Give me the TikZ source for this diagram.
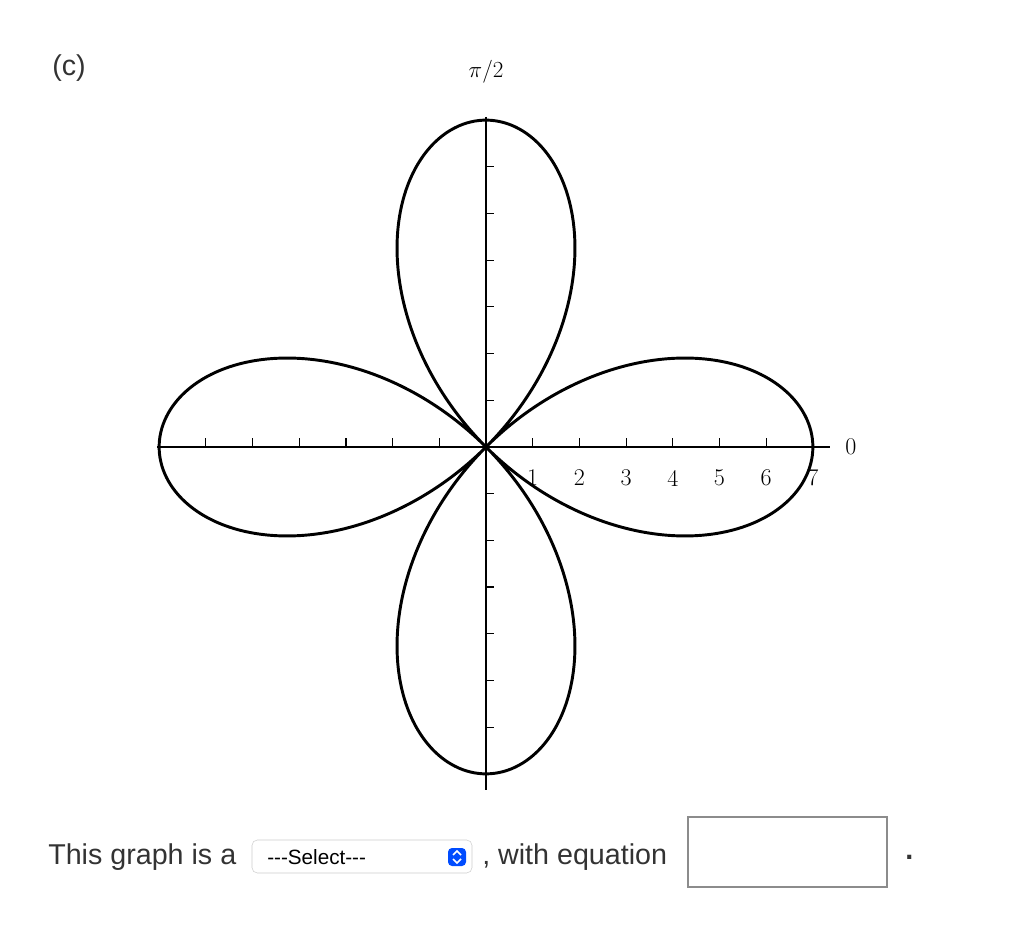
\documentclass[tikz,border=0pt]{standalone}
\usepackage{fontspec}
\setsansfont{Liberation Sans}
\newfontfamily\uifont{Liberation Sans}
\begin{document}
\begin{tikzpicture}[x=0.75pt,y=-0.75pt,
  axis/.style={line width=1.1pt,black},
  tick/.style={line width=0.9pt,black},
  curve/.style={line width=2.2pt,black},
  num/.style={font=\fontsize{18}{20}\selectfont},
  ui/.style={font=\uifont\fontsize{21.5}{24}\selectfont,text=black!80,inner sep=0pt}]
\useasboundingbox (0,0) rectangle (1022,944);
\def\u{46.7}
\draw[axis] (157,447) -- (830,447);
\draw[axis] (486,117) -- (486,790);
\foreach \k in {1,...,7}{
  \draw[tick] ({486+\u*\k},447) -- ({486+\u*\k},438);
  \draw[tick] ({486-\u*\k},447) -- ({486-\u*\k},438);
  \draw[tick] (486,{447-\u*\k}) -- (494,{447-\u*\k});
  \draw[tick] (486,{447+\u*\k}) -- (494,{447+\u*\k});
  \node[num] at ({486+\u*\k},478) {\k};
}
\draw[curve,smooth] plot[domain=0:360,samples=500,variable=\t]
  ({486+\u*7*cos(2*\t)*cos(\t)},{447-\u*7*cos(2*\t)*sin(\t)}) -- cycle;
\node[num] (zero) at (851,447) {0};
\node[num] (pi) at (486,72) {$\pi/2$};
\node[ui,anchor=west] (c) at (52,68) {(c)};
\node[ui,anchor=west] (t1) at (48,857) {This graph is a};
\draw[rounded corners=4pt,draw=black!20] (252,840) rectangle (472,873);
\node[font=\uifont\fontsize{15.5}{17}\selectfont,anchor=west,inner sep=0pt] (sel) at (267,857) {---Select---};
\fill[rounded corners=3pt,blue!70!cyan] (448,848) rectangle (466,866);
\draw[white,line width=1.2pt] (453,855) -- (457,851) -- (461,855);
\draw[white,line width=1.2pt] (453,859) -- (457,863) -- (461,859);
\node[ui,anchor=west] (t2) at (482,857) {, with equation};
\draw[black!45,line width=1pt] (688,817) rectangle (887,887);
\node[ui,anchor=west] (dot) at (905,857) {\textbf{.}};
\end{tikzpicture}
\end{document}
